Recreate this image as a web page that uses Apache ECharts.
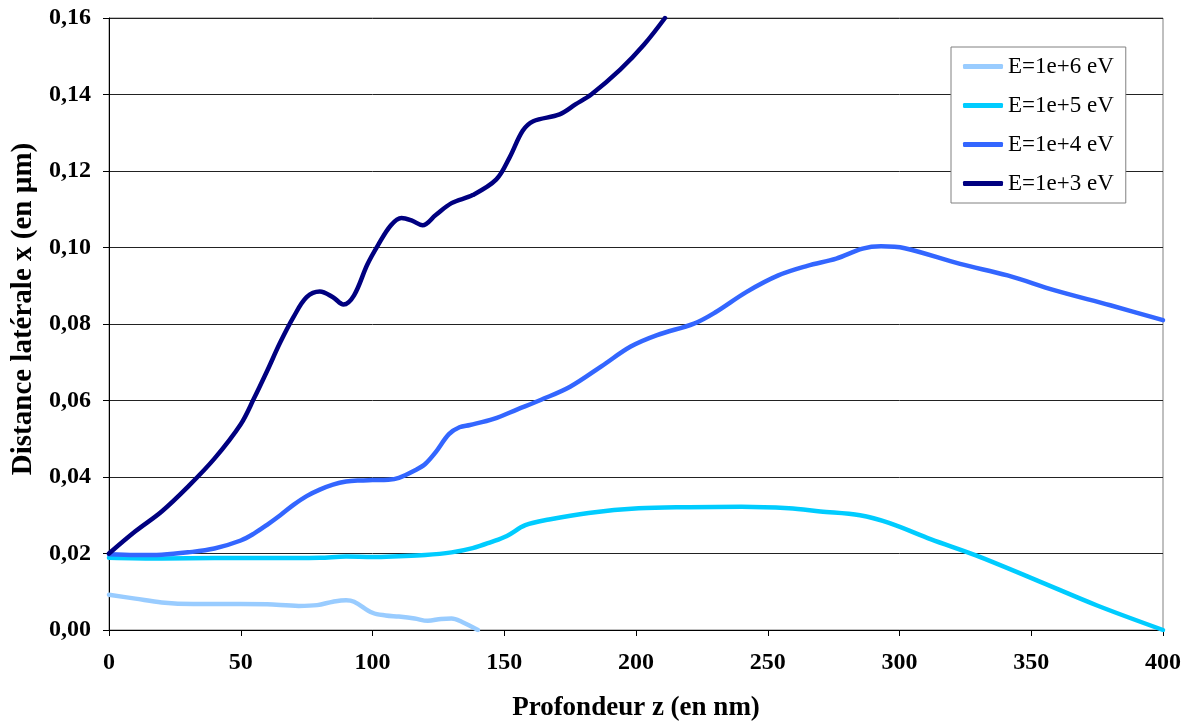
<!DOCTYPE html>
<html>
<head>
<meta charset="utf-8">
<script src="https://cdn.jsdelivr.net/npm/echarts@6/dist/echarts.min.js"></script>
<style>
  html, body { margin: 0; padding: 0; background: #ffffff; }
  #chart { width: 1187px; height: 727px; }
</style>
</head>
<body>
<div id="chart"></div>
<script>
// Depth z (nm) and lateral spread x (µm) for each primary energy
const seriesNames = ['E=1e+6 eV', 'E=1e+5 eV', 'E=1e+4 eV', 'E=1e+3 eV'];
const seriesColors = ['#99CCFF', '#00CCFF', '#3366FF', '#000080'];

const e6 = [[0,0.0092],[10,0.0082],[20,0.0072],[32,0.0068],[50,0.0068],[60,0.0067],[72,0.0063],[79,0.0065],[85,0.0074],[90,0.0078],[93,0.0074],[100,0.0045],[105,0.0038],[110,0.0035],[116,0.0030],[121,0.0024],[126,0.0029],[130,0.0030],[134,0.0021],[140,0.0]];

const e5 = [[0,0.0189],[20,0.0187],[40,0.0188],[60,0.0188],[80,0.0189],[90,0.0192],[100,0.0191],[110,0.0193],[120,0.0196],[130,0.0203],[138,0.0214],[145,0.0230],[151,0.0246],[158,0.0274],[167,0.0289],[182,0.0306],[201,0.0318],[220,0.0321],[240,0.0322],[258,0.0318],[270,0.0310],[285,0.0300],[296,0.0280],[312,0.0237],[329,0.0195],[351,0.0133],[375,0.0064],[400,0.0]];

const e4 = [[0,0.0198],[10,0.0196],[20,0.0197],[30,0.0203],[40,0.0213],[50,0.0234],[55,0.0252],[60,0.0275],[65,0.0300],[70,0.0327],[75,0.0350],[80,0.0367],[85,0.0380],[90,0.0388],[95,0.0391],[100,0.0392],[106,0.0393],[110,0.0398],[116,0.0417],[120,0.0434],[124,0.0465],[129,0.0512],[133,0.0530],[137,0.0536],[146,0.0552],[155,0.0577],[164,0.0602],[175,0.0636],[187,0.0690],[198,0.0741],[208,0.0771],[222,0.0801],[230,0.0830],[242,0.0884],[254,0.0927],[265,0.0952],[276,0.0971],[286,0.0997],[293,0.1003],[302,0.0998],[323,0.0957],[341,0.0927],[359,0.0888],[380,0.0849],[400,0.0810]];

const e3 = [[0,0.0200],[10,0.0258],[20,0.0310],[30,0.0375],[40,0.0448],[50,0.0538],[55,0.0605],[60,0.0677],[65,0.0752],[70,0.0818],[75,0.0870],[80,0.0885],[85,0.0870],[89,0.0851],[93,0.0875],[98,0.0955],[102,0.1005],[107,0.1058],[111,0.1077],[115,0.1070],[119,0.1058],[124,0.1085],[130,0.1116],[138,0.1137],[147,0.1178],[152,0.1235],[157,0.1305],[161,0.1330],[171,0.1348],[177,0.1374],[183,0.1400],[194,0.1465],[203,0.1530],[211,0.1600]];

const seriesData = [e6, e5, e4, e3];

const serif = '"Liberation Serif", "Times New Roman", serif';
const chart = echarts.init(document.getElementById('chart'), null, { renderer: 'canvas' });

chart.setOption({
  backgroundColor: '#ffffff',
  animation: false,
  grid: {
    left: 109, right: 24, top: 18, bottom: 93,
    show: true, borderColor: '#808080', borderWidth: 1, backgroundColor: '#ffffff'
  },
  legend: {
    left: 951, top: 47,
    orient: 'vertical',
    data: seriesNames,
    backgroundColor: '#ffffff',
    borderColor: '#808080', borderWidth: 1,
    padding: [8, 12, 8, 12],
    itemWidth: 40, itemHeight: 5, itemGap: 16,
    icon: 'roundRect',
    textStyle: { fontFamily: serif, fontSize: 23, color: '#000', lineHeight: 22 }
  },
  xAxis: {
    type: 'value', min: 0, max: 400, interval: 50,
    name: 'Profondeur z (en nm)',
    nameLocation: 'middle', nameGap: 65,
    nameTextStyle: { fontFamily: serif, fontSize: 27, fontWeight: 'bold', color: '#000' },
    axisLine: { lineStyle: { color: '#000', width: 1 } },
    axisTick: { show: true, length: 6, lineStyle: { color: '#000' } },
    axisLabel: { margin: 21, fontFamily: serif, fontSize: 24, fontWeight: 'bold', color: '#000' },
    splitLine: { show: false }
  },
  yAxis: {
    type: 'value', min: 0, max: 0.16, interval: 0.02,
    name: 'Distance latérale x (en µm)',
    nameLocation: 'middle', nameGap: 64,
    nameTextStyle: {
      fontFamily: serif, fontSize: 29, fontWeight: 'bold', color: '#000',
      padding: [0, 0, 0, 30]
    },
    axisLine: { show: true, lineStyle: { color: '#000', width: 1 } },
    axisTick: { show: true, length: 6, lineStyle: { color: '#000' } },
    axisLabel: {
      margin: 18, fontFamily: serif, fontSize: 24, fontWeight: 'bold', color: '#000',
      formatter: v => v.toFixed(2).replace('.', ',')
    },
    splitLine: { show: true, lineStyle: { color: '#222', width: 1 } }
  },
  series: seriesNames.map((name, i) => ({
    name: name,
    type: 'line',
    data: seriesData[i],
    smooth: 0.35,
    showSymbol: false,
    color: seriesColors[i],
    lineStyle: { width: 4.5, color: seriesColors[i], cap: 'round', join: 'round' },
    z: 2 + i
  }))
});
</script>
</body>
</html>
